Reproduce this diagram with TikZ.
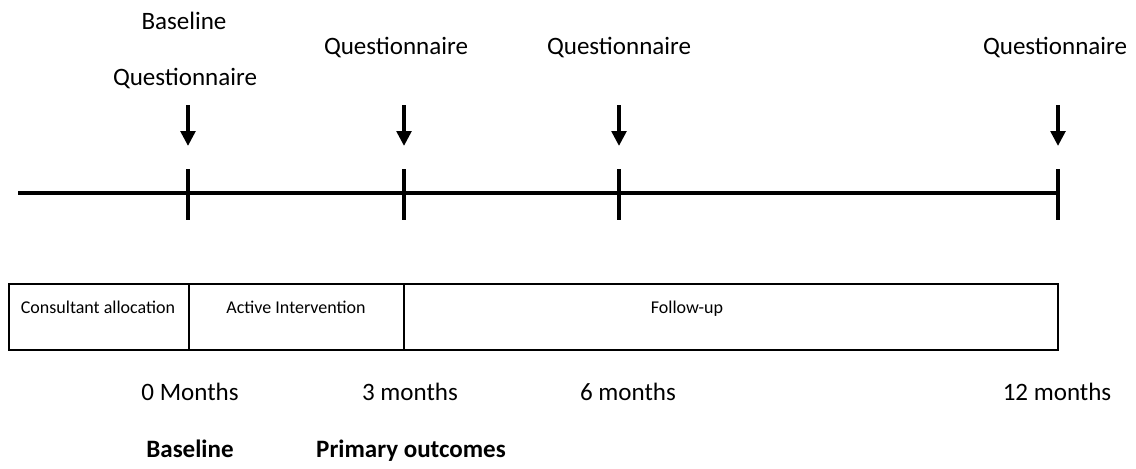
\documentclass[tikz,border=0pt]{standalone}
\usepackage{fontspec}
\setmainfont{Carlito}
\usetikzlibrary{arrows.meta, positioning}

\tikzset{
    lbl/.style={font=\fontsize{17.8}{20}\selectfont, inner sep=0pt},
    boldlbl/.style={font=\fontsize{17.8}{20}\selectfont\bfseries, inner sep=0pt, anchor=base},
    boxlbl/.style={font=\fontsize{12.8}{15}\selectfont, inner sep=0pt, anchor=base},
    phase/.style={draw, line width=1.1pt},
    tick/.style={line width=2.6pt},
    qarrow/.style={line width=2.6pt, -{Triangle[length=0.37cm, width=0.36cm]}}
}

\begin{document}
\begin{tikzpicture}[x=0.025cm, y=-0.025cm]
    \useasboundingbox (0,0) rectangle (1136,468);

    % Zeitachse
    \coordinate (start) at (18,193);
    \coordinate (end) at (1058,193);
    \draw[tick] (start) -- (end);

    % Markierungen und Pfeile
    \foreach \m/\x in {0/188, 3/404, 6/619, 12/1058} {
        \coordinate (top\m) at (\x,169);
        \coordinate (bot\m) at (\x,220);
        \coordinate (from\m) at (\x,105);
        \coordinate (to\m) at (\x,146);
        \draw[tick] (top\m) -- (bot\m);
        \draw[qarrow] (from\m) -- (to\m);
    }

    % Fragebogen
    \node[lbl] (base) at (184,21) {Baseline};
    \node[lbl] (q0) at (185,78) {Questionnaire};
    \node[lbl] (q3) at (396,47) {Questionnaire};
    \node[lbl] (q6) at (619,47) {Questionnaire};
    \node[lbl] (q12) at (1055,47) {Questionnaire};

    % Phasen
    \draw[phase] (9,284) rectangle (189,350);
    \draw[phase] (189,284) rectangle (404,350);
    \draw[phase] (404,284) rectangle (1058,350);
    \node[boxlbl] (alloc) at (98,313) {Consultant allocation};
    \node[boxlbl] (active) at (296,313) {Active Intervention};
    \node[boxlbl] (follow) at (687,313) {Follow-up};

    % Monate
    \node[lbl] (m0) at (190,392) {0 Months};
    \node[lbl] (m3) at (410,392) {3 months};
    \node[lbl] (m6) at (628,392) {6 months};
    \node[lbl] (m12) at (1057,392) {12 months};

    % Messzeitpunkte
    \node[boldlbl] (bl) at (190,457) {Baseline};
    \node[boldlbl] (prim) at (411,457) {Primary outcomes};
\end{tikzpicture}
\end{document}
